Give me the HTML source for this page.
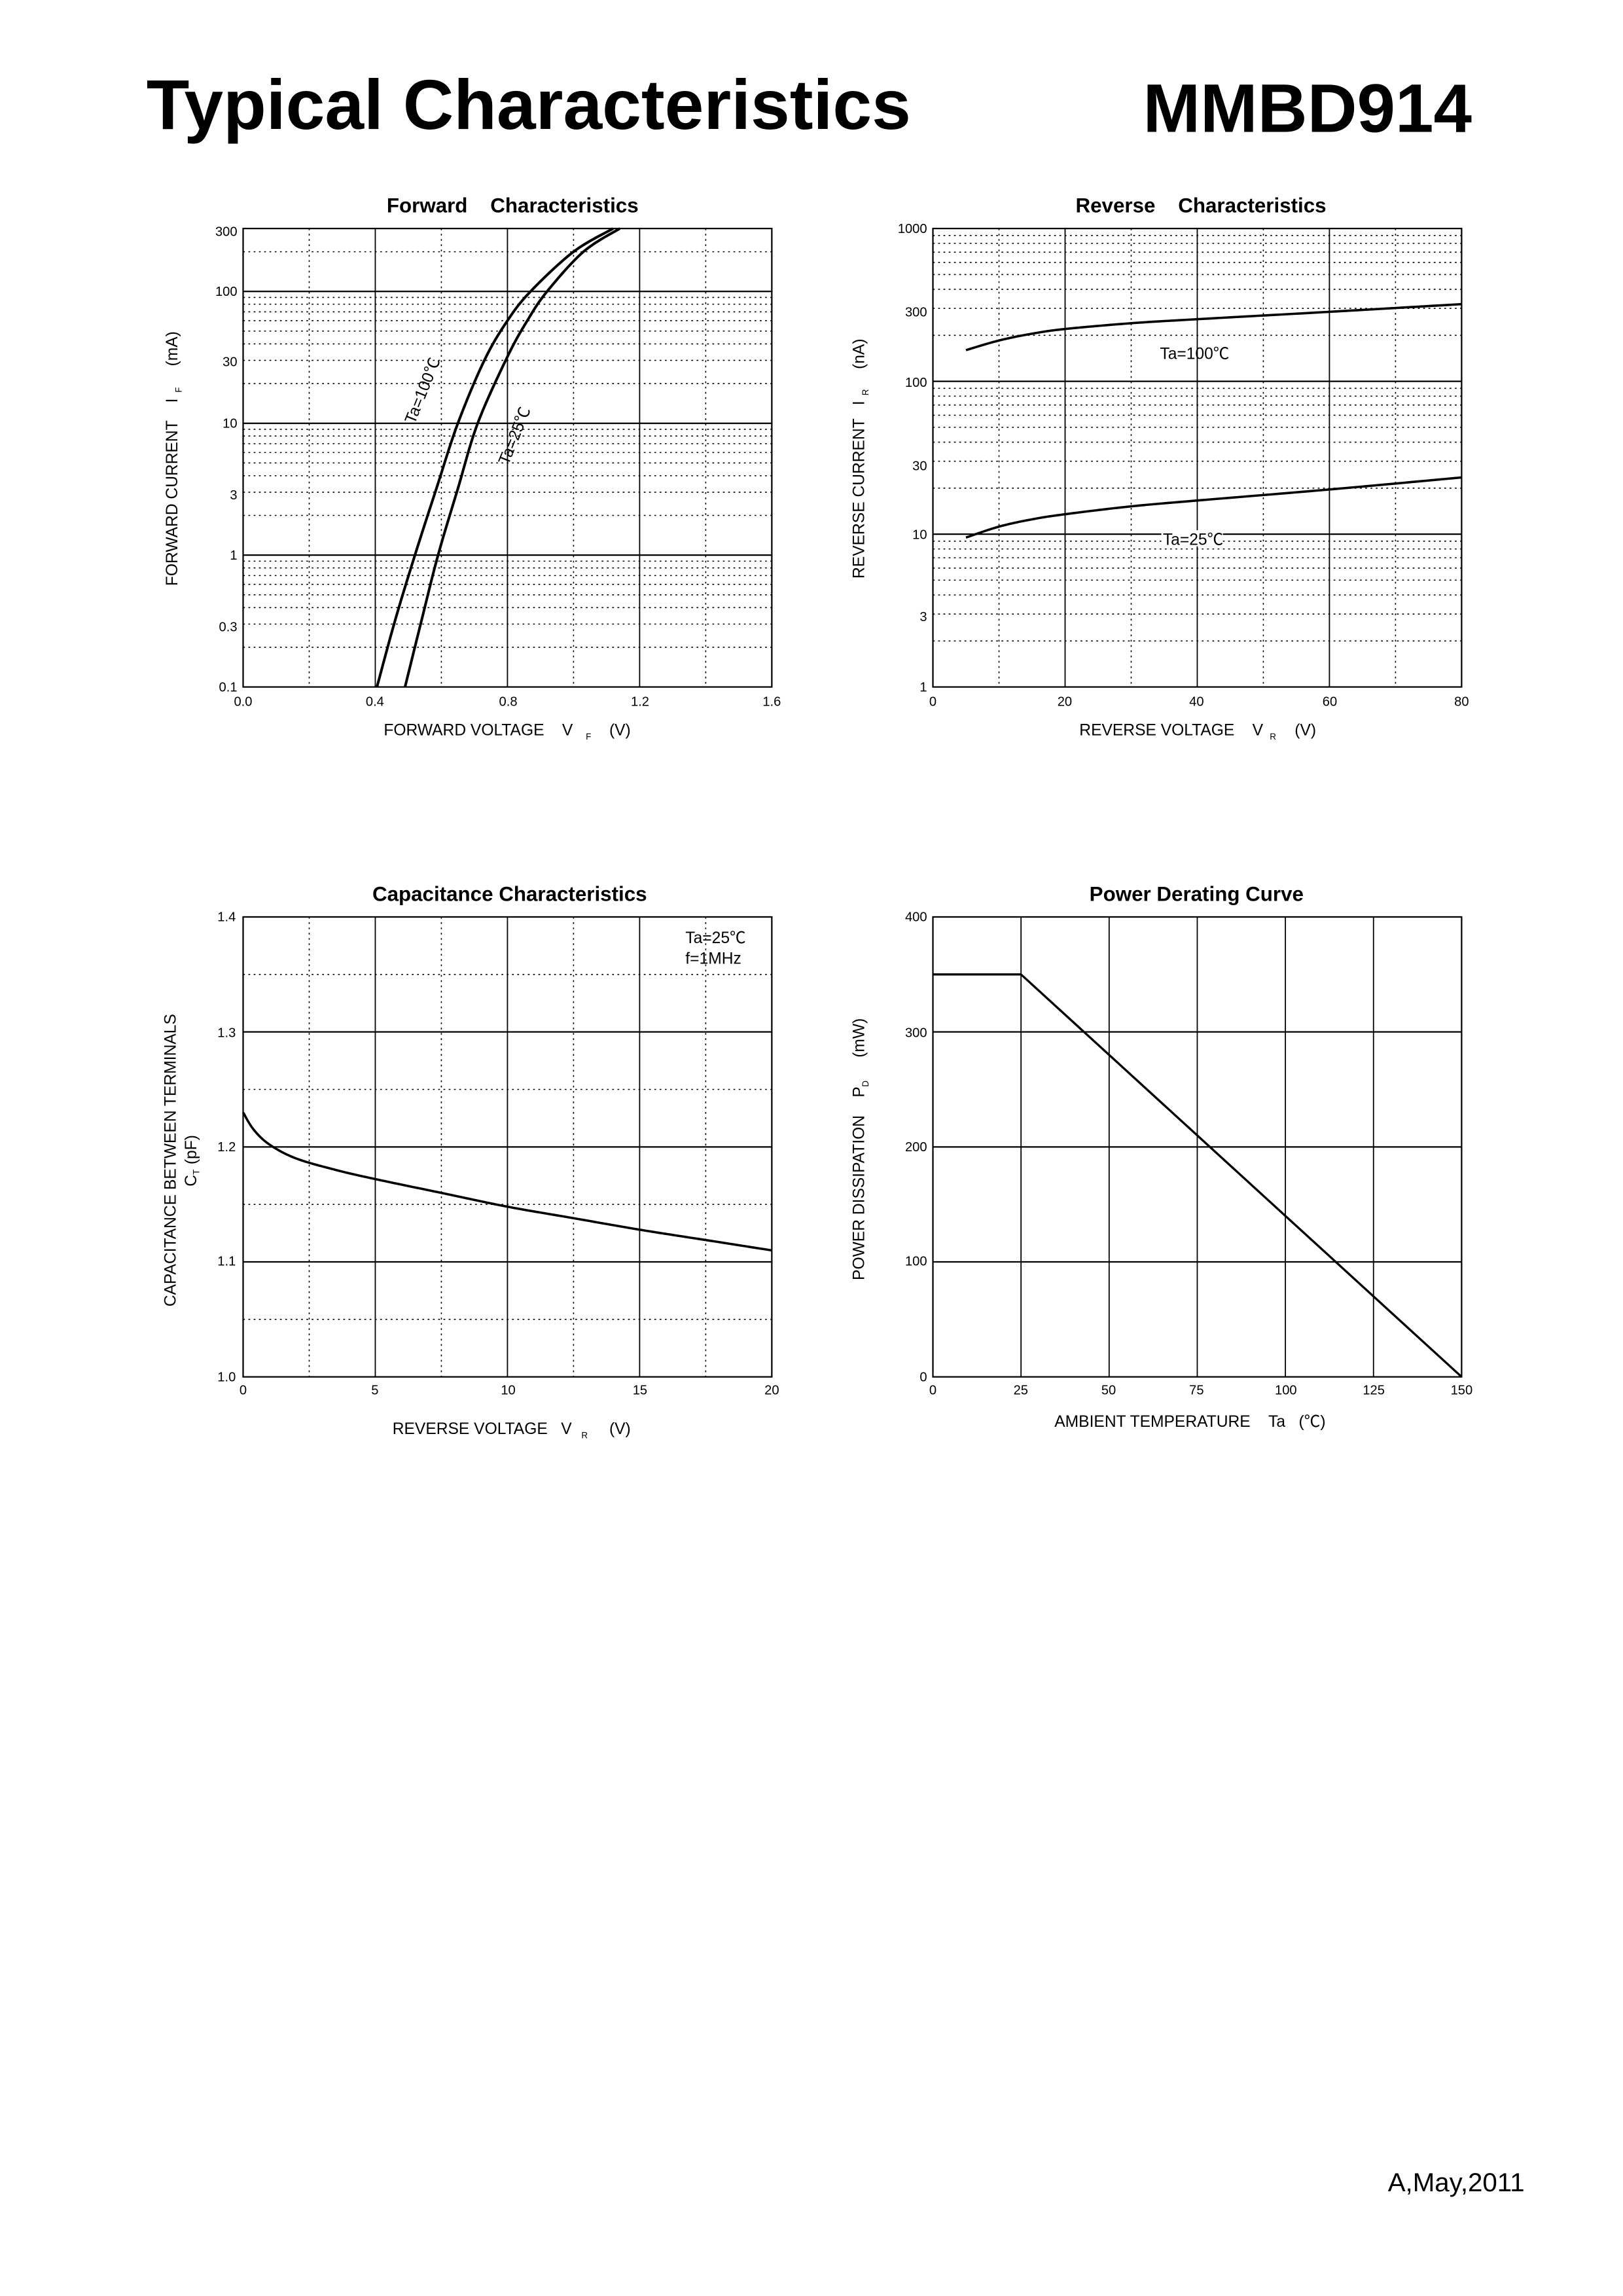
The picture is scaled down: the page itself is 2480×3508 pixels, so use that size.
<!DOCTYPE html>
<html><head><meta charset="utf-8"><style>
html,body{margin:0;padding:0;background:#fff;}
svg{display:block;}
text{font-family:"Liberation Sans","Noto Sans CJK SC",sans-serif;fill:#000;}
.t{font-size:9px;}
.l{font-size:11px;}
.h{font-size:14px;font-weight:bold;}
</style></head><body>
<svg id="s" width="2480" height="3508" viewBox="0 0 1108.2 1567.5" preserveAspectRatio="none" xmlns="http://www.w3.org/2000/svg">
<text x="100" y="88" style="font-size:48px;font-weight:bold">Typical Characteristics</text>
<text x="1005" y="90" text-anchor="end" style="font-size:47px;font-weight:bold">MMBD914</text>
<text x="1041" y="1496" text-anchor="end" style="font-size:18px">A,May,2011</text>

<!-- Forward -->
<text x="350" y="145" text-anchor="middle" class="h">Forward &#160;&#160;&#160;Characteristics</text>
<g class="t" text-anchor="end">
<text x="162" y="161">300</text><text x="162" y="202">100</text><text x="162" y="250">30</text><text x="162" y="292">10</text><text x="162" y="341">3</text><text x="162" y="382">1</text><text x="162" y="431">0.3</text><text x="162" y="472">0.1</text>
</g>
<g class="t" text-anchor="middle">
<text x="166" y="482">0.0</text><text x="256" y="482">0.4</text><text x="347" y="482">0.8</text><text x="437" y="482">1.2</text><text x="527" y="482">1.6</text>
</g>
<text x="262" y="502" class="l">FORWARD VOLTAGE &#160;&#160;&#160;V</text><text x="400" y="505" style="font-size:6px">F</text><text x="416" y="502" class="l">(V)</text>
<text transform="translate(121,400) rotate(-90)" class="l">FORWARD CURRENT &#160;&#160;&#160;I</text>
<text transform="translate(124,268) rotate(-90)" style="font-size:6px">F</text>
<text transform="translate(121,250) rotate(-90)" class="l">(mA)</text>
<text transform="translate(283,290) rotate(-68)" class="l">Ta=100℃</text>
<text transform="translate(347,318) rotate(-68)" class="l">Ta=25℃</text>

<!-- Reverse -->
<text x="820" y="145" text-anchor="middle" class="h">Reverse &#160;&#160;&#160;Characteristics</text>
<g class="t" text-anchor="end">
<text x="633" y="159">1000</text><text x="633" y="216">300</text><text x="633" y="264">100</text><text x="633" y="321">30</text><text x="633" y="368">10</text><text x="633" y="424">3</text><text x="633" y="472">1</text>
</g>
<g class="t" text-anchor="middle">
<text x="637" y="482">0</text><text x="727" y="482">20</text><text x="817" y="482">40</text><text x="908" y="482">60</text><text x="998" y="482">80</text>
</g>
<text x="737" y="502" class="l">REVERSE VOLTAGE &#160;&#160;&#160;V</text><text x="867" y="505" style="font-size:6px">R</text><text x="884" y="502" class="l">(V)</text>
<text transform="translate(590,395) rotate(-90)" class="l">REVERSE CURRENT &#160;&#160;I</text>
<text transform="translate(593,270) rotate(-90)" style="font-size:6px">R</text>
<text transform="translate(590,252) rotate(-90)" class="l">(nA)</text>

<!-- Capacitance -->
<text x="348" y="615" text-anchor="middle" class="h">Capacitance Characteristics</text>
<g class="t" text-anchor="end">
<text x="161" y="629">1.4</text><text x="161" y="708">1.3</text><text x="161" y="786">1.2</text><text x="161" y="864">1.1</text><text x="161" y="943">1.0</text>
</g>
<g class="t" text-anchor="middle">
<text x="166" y="952">0</text><text x="256" y="952">5</text><text x="347" y="952">10</text><text x="437" y="952">15</text><text x="527" y="952">20</text>
</g>
<text x="468" y="644" class="l">Ta=25℃</text><text x="468" y="658" class="l">f=1MHz</text>
<text x="268" y="979" class="l">REVERSE VOLTAGE &#160;&#160;V</text><text x="397" y="982" style="font-size:6px">R</text><text x="416" y="979" class="l">(V)</text>
<text transform="translate(120,892) rotate(-90)" class="l">CAPACITANCE BETWEEN TERMINALS</text>
<text transform="translate(134,810) rotate(-90)" class="l">C</text>
<text transform="translate(136,802) rotate(-90)" style="font-size:6px">T</text>
<text transform="translate(134,795) rotate(-90)" class="l">(pF)</text>

<!-- Power -->
<text x="817" y="615" text-anchor="middle" class="h">Power Derating Curve</text>
<g class="t" text-anchor="end">
<text x="633" y="629">400</text><text x="633" y="708">300</text><text x="633" y="786">200</text><text x="633" y="864">100</text><text x="633" y="943">0</text>
</g>
<g class="t" text-anchor="middle">
<text x="637" y="952">0</text><text x="697" y="952">25</text><text x="757" y="952">50</text><text x="817" y="952">75</text><text x="878" y="952">100</text><text x="938" y="952">125</text><text x="998" y="952">150</text>
</g>
<text x="720" y="974" class="l">AMBIENT TEMPERATURE &#160;&#160;&#160;Ta &#160;&#160;(℃)</text>
<text transform="translate(590,874) rotate(-90)" class="l">POWER DISSIPATION &#160;&#160;&#160;P</text>
<text transform="translate(593,742) rotate(-90)" style="font-size:6px">D</text>
<text transform="translate(590,722) rotate(-90)" class="l">(mW)</text>
<g id="g"></g>
</svg>
<script>
var NS="http://www.w3.org/2000/svg",g=document.getElementById("g");
function el(t,a){var e=document.createElementNS(NS,t);for(var k in a)e.setAttribute(k,a[k]);g.appendChild(e);return e;}
function line(x1,y1,x2,y2,dot,w){el("line",{x1:x1,y1:y1,x2:x2,y2:y2,stroke:"#000","stroke-width":w||(dot?0.7:0.8),"stroke-dasharray":dot?"1.2,2.4":"none"});}
function path(pts,w){el("path",{d:"M"+pts.map(function(p){return p[0].toFixed(2)+","+p[1].toFixed(2)}).join("L"),fill:"none",stroke:"#000","stroke-width":w||1.8,"stroke-linejoin":"round"});}
function spline(pts){var out=[];for(var i=0;i<pts.length-1;i++){var p0=pts[Math.max(i-1,0)],p1=pts[i],p2=pts[i+1],p3=pts[Math.min(i+2,pts.length-1)];for(var t=0;t<1;t+=0.05){var t2=t*t,t3=t2*t;out.push([0.5*((2*p1[0])+(-p0[0]+p2[0])*t+(2*p0[0]-5*p1[0]+4*p2[0]-p3[0])*t2+(-p0[0]+3*p1[0]-3*p2[0]+p3[0])*t3),0.5*((2*p1[1])+(-p0[1]+p2[1])*t+(2*p0[1]-5*p1[1]+4*p2[1]-p3[1])*t2+(-p0[1]+3*p1[1]-3*p2[1]+p3[1])*t3)]);}}out.push(pts[pts.length-1]);return out;}
var fx=function(v){return 166+v/1.6*361},fy=function(v){return 469-(Math.log10(v)+1)*313/Math.log10(3000)};
[0.2,0.6,1.0,1.4].forEach(function(v){line(fx(v),156,fx(v),469,1)});
[0.4,0.8,1.2].forEach(function(v){line(fx(v),156,fx(v),469)});
[0.1,1,10].forEach(function(d){for(var m=2;m<=9;m++)line(166,fy(d*m),527,fy(d*m),1)});line(166,fy(200),527,fy(200),1);
[1,10,100].forEach(function(v){line(166,fy(v),527,fy(v),0,1)});
el("rect",{x:166,y:156,width:361,height:313,fill:"none",stroke:"#000","stroke-width":1});
var c100=[[0.405,0.1],[0.46,0.32],[0.52,1],[0.585,3.2],[0.65,10],[0.73,30],[0.8,60],[0.87,100],[1.0,200],[1.12,300]];
var c25=[[0.49,0.1],[0.54,0.32],[0.59,1],[0.65,3.2],[0.71,10],[0.8,32],[0.86,60],[0.92,100],[1.03,200],[1.14,300]];
path(spline(c100.map(function(p){return[fx(p[0]),fy(p[1])]})));
path(spline(c25.map(function(p){return[fx(p[0]),fy(p[1])]})));
var rx=function(v){return 637+v/80*361},ry=function(v){return 469-Math.log10(v)*313/3};
[10,30,50,70].forEach(function(v){line(rx(v),156,rx(v),469,1)});
[20,40,60].forEach(function(v){line(rx(v),156,rx(v),469)});
[1,10,100].forEach(function(d){for(var m=2;m<=9;m++)line(637,ry(d*m),998,ry(d*m),1)});
[10,100].forEach(function(v){line(637,ry(v),998,ry(v),0,1)});
el("rect",{x:637,y:156,width:361,height:313,fill:"none",stroke:"#000","stroke-width":1});
var r100=[[5,160],[10,185],[15,205],[20,220],[30,240],[40,255],[60,285],[80,320]];
var r25=[[5,9.5],[10,11.2],[15,12.5],[20,13.5],[30,15.2],[40,16.6],[60,19.6],[80,23.5]];
path(spline(r100.map(function(p){return[rx(p[0]),ry(p[1])]})),1.6);
path(spline(r25.map(function(p){return[rx(p[0]),ry(p[1])]})),1.6);
el("rect",{x:793,y:362,width:42,height:11,fill:"#fff"});
var t1=el("text",{x:792,y:245,"font-size":11});t1.textContent="Ta=100℃";
var t2=el("text",{x:794,y:372,"font-size":11});t2.textContent="Ta=25℃";
var cx=function(v){return 166+v/20*361},cy=function(v){return 940-(v-1)/0.4*314};
[2.5,7.5,12.5,17.5].forEach(function(v){line(cx(v),626,cx(v),940,1)});
[5,10,15].forEach(function(v){line(cx(v),626,cx(v),940)});
[1.05,1.15,1.25,1.35].forEach(function(v){line(166,cy(v),527,cy(v),1)});
[1.1,1.2,1.3].forEach(function(v){line(166,cy(v),527,cy(v),0,1)});
el("rect",{x:166,y:626,width:361,height:314,fill:"none",stroke:"#000","stroke-width":1});
var cc=[[0,1.23],[0.4,1.215],[1,1.202],[2,1.19],[3.5,1.18],[5,1.172],[7.5,1.16],[10,1.148],[12.5,1.138],[15,1.128],[17.5,1.119],[20,1.11]];
path(spline(cc.map(function(p){return[cx(p[0]),cy(p[1])]})),1.6);
var px=function(v){return 637+v/150*361},py=function(v){return 940-v/400*314};
[25,50,75,100,125].forEach(function(v){line(px(v),626,px(v),940)});
[100,200,300].forEach(function(v){line(637,py(v),998,py(v),0,1)});
el("rect",{x:637,y:626,width:361,height:314,fill:"none",stroke:"#000","stroke-width":1});
path([[px(0),py(350)],[px(25),py(350)],[px(150),py(0)]],1.5);
</script>
</body></html>
